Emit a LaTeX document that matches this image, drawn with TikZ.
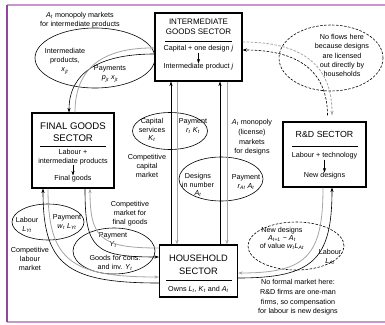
\documentclass[tikz,border=0pt]{standalone}
\usepackage{fontspec}
\setmainfont{Liberation Sans}
\usetikzlibrary{shapes.geometric,arrows.meta}
\newcommand{\vv}[2]{\textit{#1}\textsubscript{\textit{#2}}}
\definecolor{paygray}{RGB}{165,165,165}
\definecolor{frameline}{RGB}{160,80,170}

\begin{document}
\begin{tikzpicture}[x=1pt,y=-1pt,>={Stealth[length=4.5pt,width=3.2pt]},
  sector/.style={draw, line width=1.1pt, inner sep=0pt},
  txt/.style={font=\fontsize{7.2}{9}\selectfont, align=center, inner sep=0pt},
  mkt/.style={draw, ellipse, line width=0.6pt, inner sep=0pt},
  goods/.style={->, line width=0.6pt},
  pay/.style={->, line width=0.8pt, paygray},
  noflow/.style={dash pattern=on 2.5pt off 1.5pt}]
\useasboundingbox (0,0) rectangle (385,324);
\draw[frameline!60, line width=1.2pt] (7,5) -- (385,5);
\draw[frameline!60, line width=1.5pt] (7,322) -- (385,322);
\draw[frameline!90!black, line width=1.2pt] (7,5) -- (7,322);

% sectors
\node[sector, minimum width=87pt, minimum height=68pt] (inter) at (198.5,47) {};
\node[sector, minimum width=82pt, minimum height=75pt] (final) at (73,150.5) {};
\node[sector, minimum width=83pt, minimum height=65pt] (rd) at (324.5,154.5) {};
\node[sector, minimum width=78pt, minimum height=52pt] (hh) at (198.5,271) {};

\node[txt, font=\fontsize{8}{10}\selectfont] (interT) at (198.5,27) {INTERMEDIATE\\GOODS SECTOR};
\draw[line width=0.5pt] (165,41) -- (232,41);
\node[txt] (interA) at (198.5,49) {Capital + one design \textit{j}};
\node[txt] (interB) at (198.5,67) {Intermediate product \textit{j}};
\draw[->, line width=0.5pt] (interA) -- (interB);

\node[txt, font=\fontsize{9.6}{12}\selectfont] (finalT) at (73,132) {FINAL GOODS\\SECTOR};
\draw[line width=0.5pt] (40,146) -- (106,146);
\node[txt, font=\fontsize{7.2}{8.5}\selectfont] (finalA) at (73,157) {Labour +\\intermediate products};
\node[txt] (finalB) at (73,179) {Final goods};
\draw[->, line width=0.5pt] (finalA) -- (finalB);

\node[txt, font=\fontsize{8.8}{11}\selectfont] (rdT) at (324.5,134) {R\&D SECTOR};
\draw[line width=0.5pt] (292,146) -- (358,146);
\node[txt] (rdA) at (324.5,156) {Labour + technology};
\node[txt] (rdB) at (324.5,176) {New designs};
\draw[->, line width=0.5pt] (rdA) -- (rdB);

\node[txt, font=\fontsize{9.3}{13}\selectfont] (hhT) at (198.5,264.5) {HOUSEHOLD\\SECTOR};
\draw[line width=0.5pt] (166,280) -- (232,280);
\node[txt] (hhA) at (198.5,289) {Owns \vv{L}{t}, \vv{K}{t} and \vv{A}{t}};

% markets
\node[mkt, minimum width=120pt, minimum height=60pt] (mktInt) at (95,58) {};
\node[mkt, minimum width=75pt, minimum height=37pt] (mktCap) at (170,131) {};
\node[mkt, minimum width=84pt, minimum height=44pt] (mktDes) at (221,179) {};
\node[mkt, minimum width=72pt, minimum height=36pt] (mktLab) at (48,222) {};
\node[mkt, minimum width=82pt, minimum height=46pt] (mktFin) at (114,251) {};
\node[mkt, noflow, minimum width=104pt, minimum height=66pt] (mktNone) at (331,58) {};
\node[mkt, noflow, minimum width=96pt, minimum height=48pt] (mktNew) at (296,246) {};

\node[txt] (lblInt) at (80,20) {\vv{A}{t} monopoly markets\\for intermediate products};
\node[txt] (lblXj) at (65,61.5) {Intermediate\\products,\\\vv{x}{jt}};
\node[txt] (lblPj) at (110,74) {Payments\\\vv{p}{jt} \vv{x}{jt}};
\node[txt, font=\fontsize{7.2}{8.5}\selectfont] (lblK) at (152,130) {Capital\\services\\\vv{K}{t}};
\node[txt, font=\fontsize{7.2}{8.5}\selectfont] (lblRK) at (193,126) {Payment\\\vv{r}{t} \vv{K}{t}};
\node[txt] (lblCap) at (147,166) {Competitive\\capital\\market};
\node[txt, font=\fontsize{7.2}{8.5}\selectfont] (lblD) at (198,185) {Designs\\in number\\\vv{A}{t}};
\node[txt, font=\fontsize{7.2}{8.5}\selectfont] (lblRA) at (246,182) {Payment\\\vv{r}{At} \vv{A}{t}};
\node[txt, font=\fontsize{7.2}{9.6}\selectfont] (lblDes) at (252,137.5) {\vv{A}{t} monopoly\\(license)\\markets\\for designs};
\node[txt] (lblFin) at (130,214) {Competitive\\market for\\final goods};
\node[txt, font=\fontsize{7.2}{8.5}\selectfont] (lblL) at (27,225) {Labour\\\vv{L}{Yt}};
\node[txt, font=\fontsize{7.2}{8.5}\selectfont] (lblW) at (67,222) {Payment\\\vv{w}{t} \vv{L}{Yt}};
\node[txt] (lblLab) at (30,258.5) {Competitive\\labour\\market};
\node[txt, font=\fontsize{7.2}{8.5}\selectfont] (lblY) at (113,240) {Payment\\\vv{Y}{t}};
\node[txt, font=\fontsize{7.2}{8.5}\selectfont] (lblC) at (115,263) {Goods for cons.\\and inv. \vv{Y}{t}};
\node[txt, font=\fontsize{7.2}{9.2}\selectfont] (lblNone) at (342,55.5) {No flows here\\because designs\\are licensed\\out directly by\\households};
\node[txt, font=\fontsize{7.2}{8.3}\selectfont] (lblNew) at (282,238.5) {New designs\\\textit{A}\textsubscript{\textit{t}+1} − \vv{A}{t}\\of value \vv{w}{t}\vv{L}{At}};
\node[txt, font=\fontsize{7.2}{8.5}\selectfont] (lblLA) at (330,257) {Labour\\\vv{L}{At}};
\node[txt, font=\fontsize{7.2}{9.6}\selectfont] (lblNo) at (298,297.5) {No formal market here:\\R\&D firms are one-man\\firms, so compensation\\for labour is new designs};

% flows: goods in black, payments in grey
\draw[goods] ([xshift=-27.5pt]hh.north) -- ([xshift=-27.5pt]inter.south);
\draw[pay] ([xshift=-21.5pt]inter.south) -- ([xshift=-21.5pt]hh.north);
\draw[goods] ([xshift=21.5pt]hh.north) -- ([xshift=21.5pt]inter.south);
\draw[pay] ([xshift=28.5pt]inter.south) -- ([xshift=28.5pt]hh.north);

\draw[goods] ([yshift=-7pt]inter.west) .. controls +(-55,0) and +(0,-40) .. ([xshift=-4pt]final.north);
\draw[pay] ([xshift=2pt]final.north) .. controls +(0,-44) and +(-52,0) .. ([yshift=-1pt]inter.west);

\draw[pay, noflow] ([yshift=5pt]inter.east) .. controls +(60,0) and +(0,-50) .. ([xshift=7.5pt,yshift=6pt]rd.north);
\draw[goods, noflow] ([xshift=3pt,yshift=6pt]rd.north) .. controls +(0,-45) and +(55,0) .. ([yshift=-3pt]inter.east);

\draw[goods] ([yshift=-12pt]hh.west) .. controls +(-93,0) and +(0,76) .. ([xshift=-30pt]final.south);
\draw[pay] ([xshift=-25pt]final.south) .. controls +(0,72) and +(-88,0) .. ([yshift=-6pt]hh.west);
\draw[goods] ([xshift=12pt]final.south) .. controls +(0,60) and +(-65,0) .. ([yshift=14pt]hh.west);
\draw[pay] ([yshift=23pt]hh.west) .. controls +(-58,0) and +(0,50) .. ([xshift=17pt]final.south);

\draw[pay] ([xshift=-1.5pt]rd.south) .. controls +(0,69) and +(68,0) .. ([yshift=-2pt]hh.east);
\draw[goods] ([yshift=-7pt]hh.east) .. controls +(75,0) and +(0,72) .. ([xshift=7.5pt]rd.south);
\end{tikzpicture}
\end{document}
